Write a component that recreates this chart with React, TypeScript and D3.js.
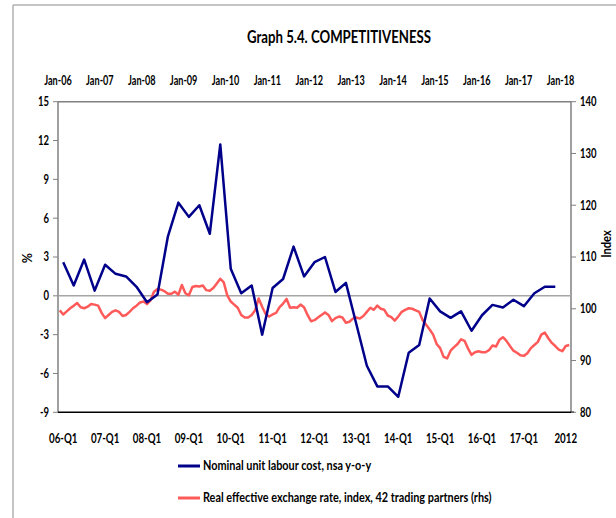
import React from "react";
import * as d3 from "d3";

const quarterCount = 49;
const quarterLabels = ["06-Q1", "07-Q1", "08-Q1", "09-Q1", "10-Q1", "11-Q1", "12-Q1", "13-Q1", "14-Q1", "15-Q1", "16-Q1", "17-Q1", "2012"];
const monthLabels = ["Jan-06", "Jan-07", "Jan-08", "Jan-09", "Jan-10", "Jan-11", "Jan-12", "Jan-13", "Jan-14", "Jan-15", "Jan-16", "Jan-17", "Jan-18"];
const monthCount = 147;
const leftTicks = [15, 12, 9, 6, 3, 0, -3, -6, -9];
const rightTicks = [140, 130, 120, 110, 100, 90, 80];

// Nominal unit labour cost, nsa y-o-y (%), quarterly from 06-Q1
const ulc = [
  2.6, 0.8, 2.8, 0.4, 2.4, 1.7, 1.5, 0.7,
  -0.5, 0.1, 4.6, 7.2, 6.1, 7.0, 4.8, 11.7,
  2.1, 0.2, 0.8, -3.0, 0.6, 1.3, 3.8, 1.5,
  2.6, 3.0, 0.3, 1.0, -2.2, -5.4, -7.0, -7.0,
  -7.8, -4.4, -3.8, -0.2, -1.2, -1.7, -1.2, -2.7,
  -1.5, -0.7, -0.9, -0.3, -0.8, 0.2, 0.7, 0.7,
];

// Real effective exchange rate, index (rhs), monthly from Jan-06
const reer = [
  99.7, 98.9, 99.5, 100.1, 100.6, 101.1, 100.3, 100.1, 100.4, 100.9, 100.8, 100.6,
  99.2, 98.2, 98.8, 99.4, 99.7, 99.4, 98.6, 98.8, 99.4, 100.1, 100.6, 101.2,
  101.4, 100.9, 101.6, 103.3, 103.8, 103.7, 103.4, 102.9, 102.9, 103.3, 102.7, 104.6,
  103.0, 102.6, 104.2, 104.4, 104.3, 104.5, 103.6, 103.5, 104.0, 104.9, 105.8, 105.1,
  102.6, 101.4, 100.8, 100.2, 98.8, 98.3, 98.3, 98.8, 99.7, 102.0, 100.4, 99.0,
  98.5, 98.9, 99.2, 100.3, 101.0, 101.9, 100.2, 100.3, 100.2, 100.8, 100.3, 98.8,
  97.6, 97.8, 98.3, 98.8, 99.3, 98.8, 97.6, 98.2, 98.5, 98.3, 97.3, 97.5,
  98.1, 98.3, 98.1, 98.6, 99.4, 100.2, 99.8, 100.6, 100.0, 99.8, 98.7, 98.4,
  97.7, 98.5, 99.4, 99.8, 100.1, 100.0, 99.7, 99.4, 97.8, 96.9, 96.0, 95.0,
  93.2, 92.4, 90.7, 90.4, 91.9, 92.6, 93.2, 94.1, 93.8, 92.3, 91.1, 91.6,
  91.8, 91.6, 91.6, 92.0, 92.9, 92.7, 94.0, 94.5, 93.8, 92.8, 91.9, 91.5,
  91.0, 90.9, 91.4, 92.4, 93.0, 93.6, 95.0, 95.4, 94.3, 93.4, 92.8, 92.1,
  91.8, 92.8, 93.0,
];

const legendItems = [
  { label: "Nominal unit labour cost, nsa y-o-y", color: "#00008B" },
  { label: "Real effective exchange rate, index, 42 trading partners (rhs)", color: "#FF5A5A" },
];

const FONT = "Lato, 'Open Sans', sans-serif";

type TProps = {
  x: number; y: number; anchor?: "start" | "middle" | "end"; size?: number; sx?: number;
  rotate?: number; dy?: string; children: React.ReactNode;
};
function T({ x, y, anchor = "start", size = 12.5, sx = 0.76, rotate = 0, dy, children }: TProps) {
  return (
    <text
      transform={`translate(${x},${y}) rotate(${rotate}) scale(${sx},1)`}
      textAnchor={anchor}
      dy={dy}
      style={{ fontFamily: FONT, fontWeight: 700, fontSize: size, fill: "#000" }}
    >
      {children}
    </text>
  );
}

export default function App() {
  const W = 616, H = 518;
  const left = 58, right = 571, top = 101.7, bottom = 412.3;

  const xQ = d3.scaleBand<number>().domain(d3.range(quarterCount)).range([left, right]);
  const xQc = (i: number) => (xQ(i) as number) + xQ.bandwidth() / 2;
  const xM = d3.scaleLinear().domain([0, monthCount]).range([left, right]);
  const yL = d3.scaleLinear().domain([-9, 15]).range([bottom, top]);
  const yR = d3.scaleLinear().domain([80, 140]).range([bottom, top]);

  const ulcLine = d3.line<number>().x((_, i) => xQc(i)).y((d) => yL(d));
  const reerLine = d3.line<number>().x((_, i) => xM(i + 0.5)).y((d) => yR(d));

  return (
    <svg width={W} height={H} style={{ position: "absolute", left: 0, top: 0, background: "#fff" }}>
      {/* chart area frame lines */}
      <line x1={13} x2={W} y1={5} y2={5} stroke="#b0b0b0" strokeWidth={1.5} />
      <line x1={13} x2={13} y1={5} y2={H} stroke="#b0b0b0" strokeWidth={1.5} />

      <T x={339} y={43} anchor="middle" size={16.5} sx={0.8}>Graph 5.4. COMPETITIVENESS</T>

      {/* plot frame */}
      <line x1={left} x2={right} y1={top} y2={top} stroke="#808080" strokeWidth={1.5} />
      <line x1={left} x2={left} y1={top} y2={bottom} stroke="#808080" strokeWidth={1.5} />
      <line x1={right} x2={right} y1={top} y2={bottom} stroke="#808080" strokeWidth={1.5} />
      <line x1={left} x2={right} y1={yL(0)} y2={yL(0)} stroke="#a6a6a6" strokeWidth={1.5} />
      <line x1={left} x2={right + 3} y1={bottom} y2={bottom} stroke="#000" strokeWidth={1.5} />

      {/* left axis */}
      {leftTicks.map((t) => (
        <g key={"l" + t}>
          <line x1={left - 5} x2={left} y1={yL(t)} y2={yL(t)} stroke="#808080" strokeWidth={1} />
          <T x={49} y={yL(t)} dy="0.35em" anchor="end">{t}</T>
        </g>
      ))}
      {/* right axis */}
      {rightTicks.map((t) => (
        <g key={"r" + t}>
          <line x1={right} x2={right + 5} y1={yR(t)} y2={yR(t)} stroke="#808080" strokeWidth={1} />
          <T x={580} y={yR(t)} dy="0.35em">{t}</T>
        </g>
      ))}

      {/* top month labels */}
      {monthLabels.map((m, k) => (
        <T key={m} x={xM(k * 12)} y={85} anchor="middle" sx={0.73}>{m}</T>
      ))}
      {/* bottom quarter labels */}
      {quarterLabels.map((q, k) => (
        <T key={q} x={xQc(k * 4)} y={443} anchor="middle" sx={0.78}>{q}</T>
      ))}

      <T x={32} y={258} anchor="middle" rotate={-90} sx={1}>%</T>
      <T x={611} y={244} anchor="middle" rotate={-90} sx={0.9}>Index</T>

      <path d={reerLine(reer) ?? ""} fill="none" stroke={legendItems[1].color} strokeWidth={2.5} strokeLinejoin="round" />
      <path d={ulcLine(ulc) ?? ""} fill="none" stroke={legendItems[0].color} strokeWidth={2.5} strokeLinejoin="round" />

      {/* legend */}
      {legendItems.map((it, i) => (
        <g key={it.label}>
          <line x1={178} x2={200} y1={466 + i * 32} y2={466 + i * 32} stroke={it.color} strokeWidth={3} />
          <T x={203} y={466 + i * 32} dy="0.35em" sx={0.87}>{it.label}</T>
        </g>
      ))}
    </svg>
  );
}
